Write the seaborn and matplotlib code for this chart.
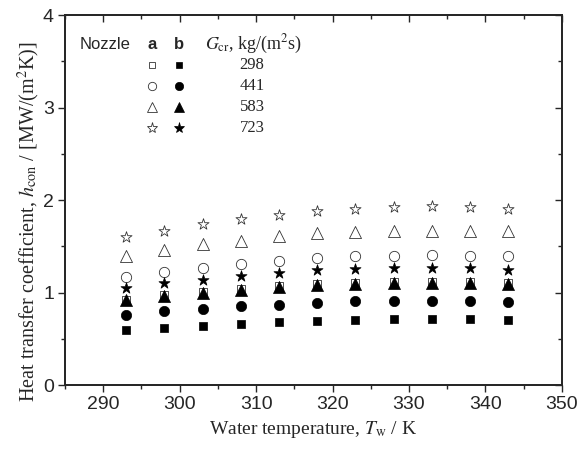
import numpy as np
import pandas as pd
import matplotlib
matplotlib.use("Agg")
import matplotlib.pyplot as plt
from matplotlib.ticker import MultipleLocator
import seaborn as sns

# Water temperature (K)
temps = [293, 298, 303, 308, 313, 318, 323, 328, 333, 338, 343]

# nozzle a (open markers)
a_298 = [0.92, 0.97, 1.01, 1.04, 1.07, 1.09, 1.10, 1.11, 1.11, 1.11, 1.10]
a_441 = [1.17, 1.22, 1.27, 1.31, 1.34, 1.37, 1.39, 1.40, 1.41, 1.40, 1.39]
a_583 = [1.40, 1.46, 1.52, 1.56, 1.61, 1.64, 1.65, 1.66, 1.67, 1.67, 1.66]
a_723 = [1.60, 1.67, 1.74, 1.79, 1.84, 1.88, 1.90, 1.92, 1.93, 1.92, 1.90]

# nozzle b (filled markers)
b_298 = [0.60, 0.62, 0.64, 0.66, 0.68, 0.69, 0.70, 0.71, 0.71, 0.71, 0.70]
b_441 = [0.76, 0.80, 0.82, 0.85, 0.87, 0.89, 0.91, 0.91, 0.91, 0.91, 0.90]
b_583 = [0.92, 0.96, 1.00, 1.03, 1.06, 1.08, 1.09, 1.10, 1.10, 1.10, 1.09]
b_723 = [1.05, 1.10, 1.14, 1.18, 1.21, 1.24, 1.25, 1.26, 1.26, 1.26, 1.24]

flux_labels = ["298", "441", "583", "723"]

sns.set_style("ticks")
plt.rcParams["font.family"] = ["Liberation Sans", "DejaVu Sans"]
plt.rcParams["mathtext.fontset"] = "stix"
plt.rcParams["axes.linewidth"] = 1.1

fig = plt.figure(figsize=(5.78, 4.51), dpi=100)
ax = fig.add_axes([0.1125, 0.1463, 0.8595, 0.8204])

markers = ["s", "o", "^", "*"]
sizes = [40, 55, 75, 70]
open_series = [a_298, a_441, a_583, a_723]
filled_series = [b_298, b_441, b_583, b_723]

# open markers first, filled ones on top
for vals, m, s in zip(open_series, markers, sizes):
    df = pd.DataFrame({"T": temps, "h": vals})
    sns.scatterplot(data=df, x="T", y="h", marker=m, s=s, facecolor="white",
                    edgecolor="#333333", linewidth=0.6, ax=ax, zorder=3)
for vals, m, s in zip(filled_series, markers, sizes):
    df = pd.DataFrame({"T": temps, "h": vals})
    sns.scatterplot(data=df, x="T", y="h", marker=m, s=s, color="black",
                    edgecolor="black", linewidth=0.5, ax=ax, zorder=4)

ax.set_xlim(285, 350)
ax.set_ylim(0, 4)
ax.xaxis.set_major_locator(MultipleLocator(10))
ax.xaxis.set_minor_locator(MultipleLocator(5))
ax.yaxis.set_major_locator(MultipleLocator(1))
ax.yaxis.set_minor_locator(MultipleLocator(0.5))
ax.tick_params(which="major", direction="out", length=5, width=1, labelsize=14, pad=3)
ax.tick_params(which="minor", direction="out", length=3, width=1)

# mirrored inward ticks on top and right
axr = ax.twinx()
axr.set_ylim(ax.get_ylim())
axr.yaxis.set_major_locator(MultipleLocator(1))
axr.yaxis.set_minor_locator(MultipleLocator(0.5))
axr.tick_params(which="major", direction="in", length=5, width=1, labelright=False)
axr.tick_params(which="minor", direction="in", length=3, width=1)
axt = ax.twiny()
axt.set_xlim(ax.get_xlim())
axt.xaxis.set_major_locator(MultipleLocator(10))
axt.xaxis.set_minor_locator(MultipleLocator(5))
axt.tick_params(which="major", direction="in", length=5, width=1, labeltop=False)
axt.tick_params(which="minor", direction="in", length=3, width=1)

serif = ["Liberation Serif", "DejaVu Serif"]
ax.set_xlabel(r"Water temperature, $T_{\rm w}$ / K", family=serif, fontsize=14, labelpad=4)
ax.set_ylabel(r"Heat transfer coefficient, $h_{\rm con}$ / [MW/(m$^2$K)]",
              family=serif, fontsize=14.5)
ax.yaxis.set_label_coords(-0.046, 0.443)

# table-style legend
def axc(px, py):
    return (px - 65) / 497, (385 - py) / 370

tx, ty = axc(80, 44)
ax.text(tx, ty, "Nozzle", transform=ax.transAxes, fontsize=12, va="center", ha="left")
tx, _ = axc(152, 44)
ax.text(tx, ty, "a", transform=ax.transAxes, fontsize=12, fontweight="bold", va="center", ha="center")
tx, _ = axc(179, 44)
ax.text(tx, ty, "b", transform=ax.transAxes, fontsize=12, fontweight="bold", va="center", ha="center")
tx, _ = axc(205, 44)
ax.text(tx, ty, r"$G_{\rm cr}$, kg/(m$^2$s)", transform=ax.transAxes, family=serif,
        fontsize=13, va="center", ha="left")

row_y = [65, 86, 107, 128]
leg_sizes = [5, 6, 7, 8]
for lab, m, ms, py in zip(flux_labels, markers, leg_sizes, row_y):
    xa, ya = axc(152, py)
    ax.plot([xa], [ya], marker=m, ms=ms, mfc="white", mec="#333333", mew=0.6,
            transform=ax.transAxes, ls="none", clip_on=False)
    xb, _ = axc(179, py)
    ax.plot([xb], [ya], marker=m, ms=ms, mfc="black", mec="black", mew=0.5,
            transform=ax.transAxes, ls="none", clip_on=False)
    xn, _ = axc(252, py)
    ax.text(xn, ya, lab, transform=ax.transAxes, family=serif, fontsize=12,
            va="center", ha="center")

fig.savefig("out.png", dpi=100)
